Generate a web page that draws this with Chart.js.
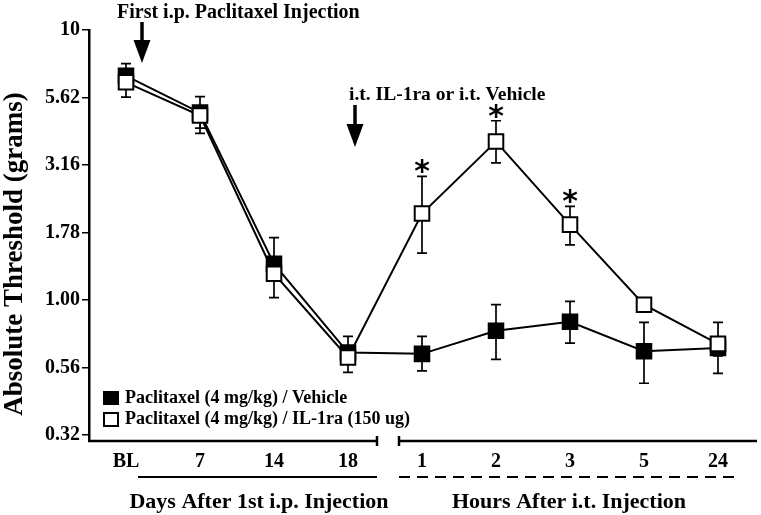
<!DOCTYPE html>
<html>
<head>
<meta charset="utf-8">
<script src="https://cdn.jsdelivr.net/npm/chart.js@4/dist/chart.umd.min.js"></script>
<style>
  html, body { margin: 0; padding: 0; background: #ffffff; }
  #wrap { width: 761px; height: 515px; }
</style>
</head>
<body>
<div id="wrap"><canvas id="c" width="761" height="515"></canvas></div>
<script>
// ---- data ----
const categories = ['BL', '7', '14', '18', '1', '2', '3', '5', '24'];
const vehicleValues  = [6.76, 4.94, 1.36, 0.638, 0.631, 0.768, 0.830, 0.645, 0.664];
const vehicleErrHigh = [7.51, 5.66, 1.70, 0.732, 0.732, 0.960, 0.987, 0.826, 0.700];
const vehicleErrLow  = [6.30, 4.33, 1.25, 0.600, 0.546, 0.602, 0.692, 0.491, 0.534];
const il1raValues    = [6.40, 4.82, 1.25, 0.612, 2.09, 3.86, 1.90, 0.960, 0.687];
const il1raErrHigh   = [6.90, 5.20, 1.40, 0.650, 2.87, 4.61, 2.22, 1.000, 0.826];
const il1raErrLow    = [5.64, 4.14, 1.02, 0.539, 1.49, 3.22, 1.60, 0.920, 0.620];
const significant    = [false, false, false, false, true, true, true, false, false];
const yTickValues = [10, 5.623, 3.162, 1.778, 1, 0.5623, 0.3162];
const yTickLabels = ['10', '5.62', '3.16', '1.78', '1.00', '0.56', '0.32'];
const seriesNames = ['Paclitaxel (4 mg/kg) / Vehicle', 'Paclitaxel (4 mg/kg) / IL-1ra (150 ug)'];
const dayGroupTitle = 'Days After 1st i.p. Injection';
const hourGroupTitle = 'Hours After i.t. Injection';
const yTitle = 'Absolute Threshold (grams)';
const firstInjectionNote = 'First i.p. Paclitaxel Injection';
const itInjectionNote = 'i.t. IL-1ra or i.t. Vehicle';

const SERIF = '"Liberation Serif", "Times New Roman", serif';

function drawArrow(ctx, x, yTop, yTip) {
  ctx.save();
  ctx.fillStyle = '#000';
  ctx.strokeStyle = '#000';
  ctx.lineWidth = 3.5;
  ctx.beginPath();
  ctx.moveTo(x, yTop);
  ctx.lineTo(x, yTip - 18);
  ctx.stroke();
  ctx.beginPath();
  ctx.moveTo(x - 8.5, yTip - 23);
  ctx.lineTo(x + 8.5, yTip - 23);
  ctx.lineTo(x, yTip);
  ctx.closePath();
  ctx.fill();
  ctx.restore();
}

const decorPlugin = {
  id: 'decor',
  beforeDatasetsDraw(chart) {
    const ctx = chart.ctx;
    const xs = chart.scales.x, ys = chart.scales.y;
    ctx.save();
    ctx.strokeStyle = '#000';
    ctx.lineWidth = 1.7;
    const bars = [[vehicleErrHigh, vehicleErrLow], [il1raErrHigh, il1raErrLow]];
    bars.forEach(([hi, lo]) => {
      for (let i = 0; i < categories.length; i++) {
        const x = xs.getPixelForValue(i);
        const yh = ys.getPixelForValue(hi[i]);
        const yl = ys.getPixelForValue(lo[i]);
        ctx.beginPath();
        ctx.moveTo(x, yh); ctx.lineTo(x, yl);
        ctx.moveTo(x - 5, yh); ctx.lineTo(x + 5, yh);
        ctx.moveTo(x - 5, yl); ctx.lineTo(x + 5, yl);
        ctx.stroke();
      }
    });
    ctx.restore();
  },
  afterDraw(chart) {
    const ctx = chart.ctx;
    const xs = chart.scales.x, ys = chart.scales.y;
    const area = chart.chartArea;
    ctx.save();
    ctx.fillStyle = '#000';
    ctx.strokeStyle = '#000';

    // split x axis
    const midX = (xs.getPixelForValue(3) + xs.getPixelForValue(4)) / 2;
    const gapL = midX - 8, gapR = midX + 14;
    const yb = area.bottom;
    ctx.lineWidth = 2.5;
    ctx.beginPath();
    ctx.moveTo(area.left - 1, yb); ctx.lineTo(gapL, yb);
    ctx.moveTo(gapL, yb - 5); ctx.lineTo(gapL, yb + 5);
    ctx.moveTo(gapR, yb); ctx.lineTo(area.right + 2, yb);
    ctx.moveTo(gapR, yb - 5); ctx.lineTo(gapR, yb + 5);
    ctx.stroke();

    // group underlines
    const ul = yb + 36;
    ctx.lineWidth = 2;
    ctx.beginPath();
    ctx.moveTo(xs.getPixelForValue(0) + 12, ul); ctx.lineTo(gapL, ul);
    ctx.stroke();
    ctx.setLineDash([11, 7]);
    ctx.beginPath();
    ctx.moveTo(gapR, ul); ctx.lineTo(xs.getPixelForValue(8) + 22, ul);
    ctx.stroke();
    ctx.setLineDash([]);

    // group titles
    ctx.font = 'bold 22px ' + SERIF;
    ctx.textAlign = 'center';
    ctx.textBaseline = 'middle';
    ctx.fillText(dayGroupTitle, 259, yb + 61);
    ctx.fillText(hourGroupTitle, 569, yb + 61);

    // y title
    ctx.save();
    ctx.translate(15, 254);
    ctx.rotate(-Math.PI / 2);
    ctx.font = 'bold 27px ' + SERIF;
    ctx.fillText(yTitle, 0, 0);
    ctx.restore();

    // annotations
    ctx.font = 'bold 20px ' + SERIF;
    ctx.textAlign = 'left';
    ctx.fillText(firstInjectionNote, 117, 13);
    drawArrow(ctx, 142, 22, 63);
    ctx.font = 'bold 19.5px ' + SERIF;
    ctx.fillText(itInjectionNote, 349, 95);
    drawArrow(ctx, 355, 105, 147);

    // significance stars
    ctx.font = 'bold 30px "DejaVu Sans", sans-serif';
    ctx.textAlign = 'center';
    for (let i = 0; i < categories.length; i++) {
      if (!significant[i]) continue;
      const x = xs.getPixelForValue(i);
      const y = ys.getPixelForValue(il1raErrHigh[i]);
      ctx.fillText('*', x, y - 3);
    }

    // legend
    ctx.lineWidth = 2;
    ctx.fillRect(103, 391, 16, 14);
    ctx.fillStyle = '#fff';
    ctx.fillRect(104, 413, 14, 13);
    ctx.strokeRect(104, 413, 14, 13);
    ctx.fillStyle = '#000';
    ctx.font = 'bold 18px ' + SERIF;
    ctx.textAlign = 'left';
    ctx.fillText(seriesNames[0], 125, 398);
    ctx.fillText(seriesNames[1], 125, 419);
    ctx.restore();
  }
};

new Chart(document.getElementById('c'), {
  type: 'line',
  data: {
    labels: categories,
    datasets: [
      {
        label: seriesNames[1],
        data: il1raValues,
        borderColor: '#000',
        borderWidth: 2,
        pointStyle: 'rect',
        pointRadius: 10.3,
        pointBorderWidth: 2,
        pointBackgroundColor: '#fff',
        pointBorderColor: '#000',
        tension: 0,
        order: 0
      },
      {
        label: seriesNames[0],
        data: vehicleValues,
        borderColor: '#000',
        borderWidth: 2,
        pointStyle: 'rect',
        pointRadius: 10.3,
        pointBorderWidth: 2,
        pointBackgroundColor: '#000',
        pointBorderColor: '#000',
        tension: 0,
        order: 1
      }
    ]
  },
  options: {
    responsive: false,
    animation: false,
    devicePixelRatio: 1,
    layout: { autoPadding: false, padding: { left: 0, top: 30, right: 6, bottom: 0 } },
    plugins: { legend: { display: false }, tooltip: { enabled: false } },
    scales: {
      x: {
        type: 'category',
        offset: true,
        grid: { display: false },
        border: { display: false },
        ticks: {
          color: '#000',
          font: { family: SERIF, size: 20, weight: 'bold' },
          padding: 1,
          maxRotation: 0,
          autoSkip: false
        },
        afterFit(scale) { scale.height = 74; scale.paddingLeft = 0; scale.paddingRight = 0; }
      },
      y: {
        type: 'logarithmic',
        min: 0.3162,
        max: 10,
        grid: {
          drawOnChartArea: false,
          drawTicks: true,
          tickLength: 7,
          color: '#000',
          lineWidth: 1.5
        },
        border: { display: true, color: '#000', width: 2.5 },
        afterBuildTicks(axis) {
          axis.ticks = yTickValues.map(v => ({ value: v }));
        },
        ticks: {
          color: '#000',
          font: { family: SERIF, size: 20, weight: 'bold' },
          padding: 2,
          callback(value) {
            let best = 0;
            yTickValues.forEach((v, i) => {
              if (Math.abs(Math.log(v) - Math.log(value)) < Math.abs(Math.log(yTickValues[best]) - Math.log(value))) best = i;
            });
            return yTickLabels[best];
          }
        },
        afterFit(scale) { scale.width = 89; scale.paddingTop = 0; scale.paddingBottom = 0; }
      }
    }
  },
  plugins: [decorPlugin]
});
</script>
</body>
</html>
